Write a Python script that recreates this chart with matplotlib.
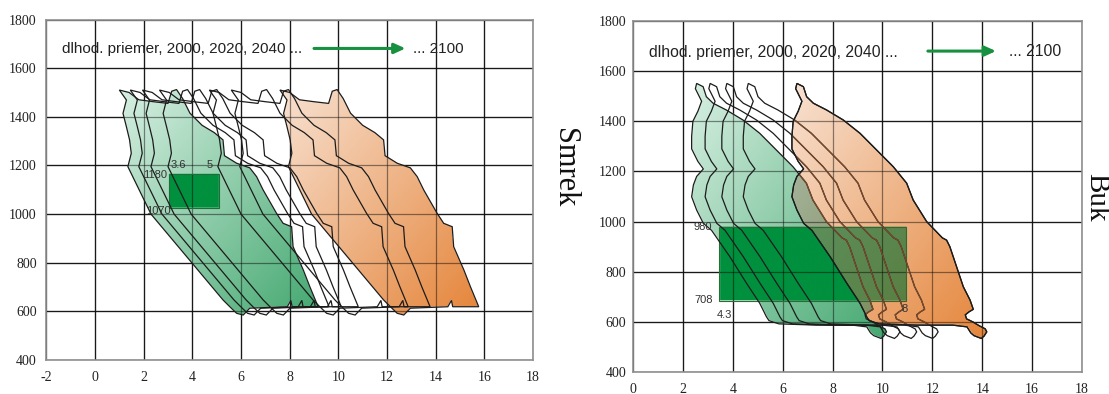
import numpy as np
import matplotlib
matplotlib.use("Agg")
import matplotlib.pyplot as plt
from matplotlib.path import Path
from matplotlib.patches import Rectangle, Polygon
from matplotlib.colors import to_rgb

plt.rcParams['font.family'] = ['Liberation Serif', 'DejaVu Serif']
plt.rcParams['axes.unicode_minus'] = False

# --- data ---
header = "dlhod. priemer, 2000, 2020, 2040 ..."
tail = "... 2100"

xticks_smrek = list(range(-2, 19, 2))
xticks_buk = list(range(0, 19, 2))
yticks = list(range(400, 1801, 200))

# outline of one period for spruce, x relative to its top-left corner
smrek_dx = [0.0, 0.4, 0.8, 1.4, 2.0, 2.15, 2.35, 2.6, 2.9, 3.4, 3.9, 4.26, 4.32, 4.45, 4.82,
            5.36, 5.64, 5.91, 6.46, 6.73, 7.08, 7.14, 7.56, 7.83, 8.17, 7.1, 7.05, 6.9, 5.36,
            5.09, 4.82, 4.54, 4.26, 1.3, 0.35, 0.49, 0.42, 0.29, 0.15, 0.29]
smrek_y = [1510, 1500, 1470, 1462, 1455, 1505, 1512, 1475, 1415, 1365, 1335, 1305, 1240, 1232, 1209,
           1190, 1154, 1099, 1003, 962, 948, 866, 770, 701, 619, 619, 645, 619, 613,
           585, 592, 619, 647, 1000, 1195, 1250, 1305, 1359, 1414, 1469]
# dlhod. priemer, 2000, 2020, 2040, 2060, 2080, 2100
smrek_shift = [1.0, 1.45, 1.95, 2.65, 4.7, 5.6, 7.6]

# outline of one period for beech, x relative to its top peak
buk_dx = [0.0, 0.26, 0.39, 0.66, 1.19, 1.86, 2.53, 3.2, 3.86, 4.4, 4.66, 5.2, 5.83, 6.0, 6.13,
          6.4, 6.67, 6.94, 7.07, 6.9, 6.75, 6.8, 7.05, 7.3, 7.55, 7.61, 7.5, 7.39, 7.1, 6.97,
          6.82, 6.25, 4.8, 3.3, 2.9, 2.8, 2.53, 2.0, 1.33, 0.6, 0.27, 0.0, -0.2, -0.13, 0.0,
          0.27, 0.05, -0.2, -0.2, -0.15, 0.05, 0.2, -0.05]
buk_y = [1551, 1538, 1498, 1472, 1445, 1405, 1352, 1285, 1219, 1153, 1086, 1000, 935, 926, 900,
         820, 740, 687, 650, 640, 628, 612, 600, 585, 572, 560, 543, 534, 545, 556,
         580, 587, 587, 592, 605, 620, 674, 754, 860, 965, 993, 1046, 1099, 1146, 1180,
         1210, 1240, 1290, 1340, 1400, 1440, 1480, 1530]
buk_shift = [2.55, 3.09, 3.76, 4.62, 6.57]

smrek_box_x = [3.05, 5.1]
smrek_box_y = [1025, 1165]
buk_box_x = [3.46, 10.94]
buk_box_y = [684, 977]

GREEN = ('#d8f0e3', '#44a870')
ORANGE = ('#f8e2d2', '#e5853a')
BOX = '#00903e'
LINE = '#1c1c1c'


def shape(dx, y, shift):
    return np.column_stack([np.asarray(dx) + shift, y])


def paint(ax, green, orange, bx, by, olive):
    x0, x1 = ax.get_xlim()
    y0, y1 = ax.get_ylim()
    X, Y = np.meshgrid(np.linspace(x0, x1, 1000), np.linspace(y0, y1, 700))
    pts = np.column_stack([X.ravel(), Y.ravel()])

    def mask(v):
        return Path(v).contains_points(pts).reshape(X.shape)

    def grad(v, cols):
        u = (X - v[:, 0].min()) / (v[:, 0].max() - v[:, 0].min())
        w = (v[:, 1].max() - Y) / (v[:, 1].max() - v[:, 1].min())
        t = np.clip((u + w) / 2, 0, 1)[..., None]
        return (1 - t) * np.array(to_rgb(cols[0])) + t * np.array(to_rgb(cols[1]))

    g, o = mask(green), mask(orange)
    r = (X >= bx[0]) & (X <= bx[1]) & (Y >= by[0]) & (Y <= by[1])
    rgb = np.ones(X.shape + (3,))
    rgb[g] = grad(green, GREEN)[g]
    rgb[r] = to_rgb(BOX)
    oc = grad(orange, ORANGE)
    if olive:
        under = g | r
        mixed = (0.45 * oc + 0.55 * rgb) * 0.85
        rgb[o & under] = mixed[o & under]
        rgb[o & ~under] = oc[o & ~under]
    else:
        rgb[o] = oc[o]
    img = np.dstack([rgb, (g | o | r).astype(float)])
    ax.imshow(img, extent=(x0, x1, y0, y1), origin='lower', aspect='auto',
              zorder=1, interpolation='bilinear')


def frame(ax, xticks):
    ax.set_xlim(xticks[0], xticks[-1])
    ax.set_ylim(yticks[0], yticks[-1])
    ax.set_xticks(xticks)
    ax.set_yticks(yticks)
    ax.set_axisbelow(True)
    ax.grid(True, color='#2e2e2e', lw=0.9)
    ax.tick_params(length=0, labelsize=10, colors='#222222')
    for sp in ax.spines.values():
        sp.set_color('#8f8f8f')
        sp.set_linewidth(1.2)


def overlay_grid(ax, xticks):
    for xv in xticks[1:-1]:
        ax.axvline(xv, color='k', alpha=0.45, lw=0.9, zorder=2)
    for yv in yticks[1:-1]:
        ax.axhline(yv, color='k', alpha=0.45, lw=0.9, zorder=2)


fig = plt.figure(figsize=(11.09, 3.94), dpi=100)

# ---------------- Smrek ----------------
ax1 = fig.add_axes([0.0418, 0.0863, 0.4388, 0.8642])
frame(ax1, xticks_smrek)
ax1.tick_params(axis='y', pad=7)
ax1.tick_params(axis='x', pad=8)
shapes = [shape(smrek_dx, smrek_y, s) for s in smrek_shift]
paint(ax1, shapes[0], shapes[-1], smrek_box_x, smrek_box_y, olive=False)
overlay_grid(ax1, xticks_smrek)
ax1.add_patch(Rectangle((smrek_box_x[0], smrek_box_y[0]), smrek_box_x[1] - smrek_box_x[0],
                        smrek_box_y[1] - smrek_box_y[0], fill=False, ec='#1f6e3a', lw=0.8, zorder=2.5))
for v in shapes:
    ax1.fill(v[:, 0], v[:, 1], fill=False, ec=LINE, lw=0.9, zorder=3)

lab = dict(family=['Liberation Sans'], fontsize=8, color='#333333', zorder=4)
ax1.text(3.43, 1200, "3.6", ha='center', va='center', **lab)
ax1.text(4.73, 1200, "5", ha='center', va='center', **lab)
ax1.text(2.95, 1160, "1180", ha='right', va='center', **lab)
ax1.text(3.1, 1012, "1070", ha='right', va='center', **lab)

ax1.text(-1.35, 1679, header, family=['Liberation Sans'], fontsize=11, color='#222222',
         ha='left', va='center')
ax1.annotate('', xy=(12.76, 1681), xytext=(9.0, 1681),
             arrowprops=dict(arrowstyle='-|>,head_length=0.55,head_width=0.25', color='#17903f',
                             lw=2.2, shrinkA=0, shrinkB=0, mutation_scale=12))
ax1.text(13.07, 1679, tail, family=['Liberation Sans'], fontsize=11, color='#222222',
         ha='left', va='center')

# ---------------- Buk ----------------
ax2 = fig.add_axes([0.5708, 0.0558, 0.4049, 0.8909])
frame(ax2, xticks_buk)
ax2.tick_params(axis='y', pad=5)
ax2.tick_params(axis='x', pad=8)
shapes = [shape(buk_dx, buk_y, s) for s in buk_shift]
paint(ax2, shapes[0], shapes[-1], buk_box_x, buk_box_y, olive=True)
overlay_grid(ax2, xticks_buk)
ax2.add_patch(Rectangle((buk_box_x[0], buk_box_y[0]), buk_box_x[1] - buk_box_x[0],
                        buk_box_y[1] - buk_box_y[0], fill=False, ec='#2f6a36', lw=0.8, zorder=2.5))
clip = Polygon(shapes[-1], closed=True, transform=ax2.transData)
for v in shapes:
    ax2.fill(v[:, 0], v[:, 1], fill=False, ec=LINE, lw=0.9, zorder=3)
for v in shapes[:-1]:
    ln, = ax2.plot(np.append(v[:, 0], v[0, 0]), np.append(v[:, 1], v[0, 1]),
                   color='#7c4a2c', lw=0.9, zorder=3.1)
    ln.set_clip_path(clip)
v = shapes[-1]
ax2.fill(v[:, 0], v[:, 1], fill=False, ec=LINE, lw=0.9, zorder=3.2)

ax2.text(3.15, 980, "980", ha='right', va='center', **lab)
ax2.text(3.22, 687, "708", ha='right', va='center', **lab)
ax2.text(3.65, 627, "4.3", ha='center', va='center', **lab)
ax2.text(10.9, 652, "8", ha='center', va='center', **lab)

ax2.text(0.65, 1675, header, family=['Liberation Sans'], fontsize=11.3, color='#222222',
         ha='left', va='center')
ax2.annotate('', xy=(14.55, 1680), xytext=(11.82, 1680),
             arrowprops=dict(arrowstyle='-|>,head_length=0.55,head_width=0.25', color='#17903f',
                             lw=2.2, shrinkA=0, shrinkB=0, mutation_scale=12))
ax2.text(15.07, 1678, tail, family=['Liberation Sans'], fontsize=11.3, color='#222222',
         ha='left', va='center')

fig.text(564.5 / 1109, 1 - 168 / 394, "Smrek", rotation=-90, fontsize=22,
         ha='center', va='center', color='#111111')
fig.text(1096 / 1109, 1 - 197 / 394, "Buk", rotation=-90, fontsize=21,
         ha='center', va='center', color='#111111')

fig.savefig('out.png', dpi=100)
